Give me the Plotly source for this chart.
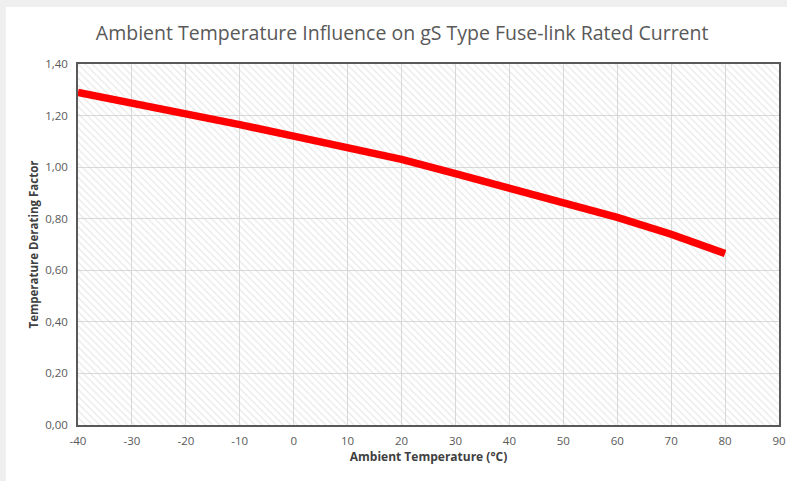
import plotly.graph_objects as go

temps = [-40, -30, -20, -10, 0, 10, 20, 30, 40, 50, 60, 70, 80]
factors = [1.29, 1.25, 1.21, 1.165, 1.12, 1.075, 1.03, 0.975, 0.92, 0.865, 0.805, 0.74, 0.665]

x_ticks = [-40, -30, -20, -10, 0, 10, 20, 30, 40, 50, 60, 70, 80, 90]
x_ticktext = ["-40", "-30", "-20", "-10", "0", "10", "20", "30", "40", "50", "60", "70", "80", "90"]
y_ticks = [0.0, 0.2, 0.4, 0.6, 0.8, 1.0, 1.2, 1.4]
y_ticktext = ["0,00", "0,20", "0,40", "0,60", "0,80", "1,00", "1,20", "1,40"]

x_range = [-40, 90]
y_range = [0, 1.4]

fig = go.Figure()

# hatched plot-area background
fig.add_trace(go.Scatter(
    x=[x_range[0], x_range[1], x_range[1], x_range[0], x_range[0]],
    y=[y_range[0], y_range[0], y_range[1], y_range[1], y_range[0]],
    mode="lines", line=dict(width=0), fill="toself",
    fillcolor="rgba(0,0,0,0)",
    fillpattern=dict(shape="\\", fgcolor="#cfcfcf", bgcolor="rgba(0,0,0,0)",
                     size=5, solidity=0.22),
    hoverinfo="skip", showlegend=False,
))

fig.add_trace(go.Scatter(
    x=temps, y=factors, mode="lines",
    line=dict(color="#ff0000", width=7.5),
    showlegend=False,
))

font_family = "Open Sans, Liberation Sans, sans-serif"

fig.update_layout(
    width=787, height=481,
    margin=dict(l=78, r=8, t=64, b=56, autoexpand=False),
    paper_bgcolor="#efefef",
    plot_bgcolor="#ffffff",
    title=dict(text="Ambient Temperature Influence on gS Type Fuse-link Rated Current",
               x=0.511, xanchor="center", y=0.931, yanchor="middle",
               font=dict(family=font_family, size=19.5, color="#595959")),
    font=dict(family=font_family, color="#595959"),
    shapes=[dict(type="rect", xref="paper", yref="paper",
                 x0=-0.103, x1=1.05, y0=-0.3, y1=1.158,
                 fillcolor="#ffffff", line=dict(width=0), layer="below")],
)

fig.update_xaxes(
    range=x_range, tickvals=x_ticks, ticktext=x_ticktext,
    showgrid=True, gridcolor="#d9d9d9", gridwidth=1,
    showline=True, linecolor="#595959", linewidth=1.5, mirror=True,
    ticks="", zeroline=False, automargin=False, ticklabelstandoff=4,
    tickfont=dict(size=11.5, color="#595959"),
    title=dict(text="<b>Ambient Temperature (°C)</b>",
               font=dict(size=12, color="#404040"), standoff=6),
)
fig.update_yaxes(
    range=y_range, tickvals=y_ticks, ticktext=y_ticktext,
    showgrid=True, gridcolor="#d9d9d9", gridwidth=1,
    showline=True, linecolor="#595959", linewidth=1.5, mirror=True,
    ticks="", zeroline=False, automargin=False, ticklabelstandoff=6,
    tickfont=dict(size=11.5, color="#595959"),
    title=dict(text="<b>Temperature Derating Factor</b>",
               font=dict(size=11.5, color="#404040"), standoff=4),
)

fig.write_html(
    "out.html",
    config={"displayModeBar": False},
    post_script="document.body.style.margin='0';document.body.style.overflow='hidden';",
)
